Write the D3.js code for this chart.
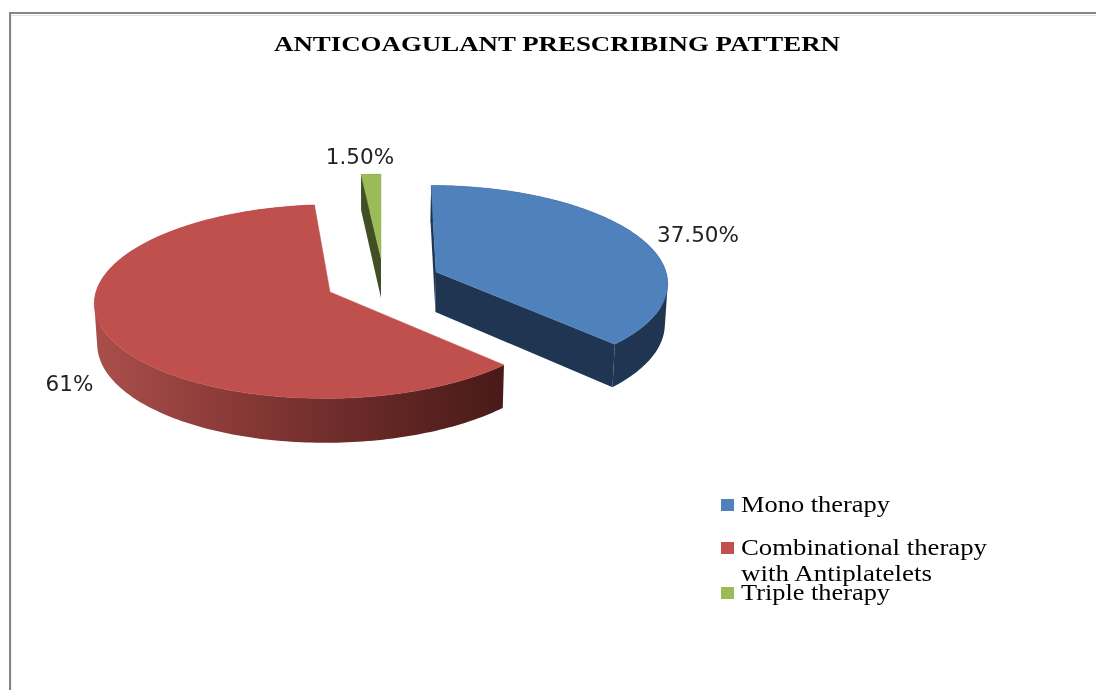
<!DOCTYPE html>
<html><head><meta charset="utf-8">
<script src="https://cdn.jsdelivr.net/npm/d3@7"></script>
<style>html,body{margin:0;padding:0;background:#fff;overflow:hidden}svg{display:block}</style>
</head><body><svg id="c" width="1096" height="690"></svg>
<script>
const title = "ANTICOAGULANT PRESCRIBING PATTERN";
const categories = ["Mono therapy", "Combinational therapy with Antiplatelets", "Triple therapy"];
const values = [37.5, 61, 1.5];
const valueLabels = ["37.50%", "61%", "1.50%"];
const topColors = ["#4f81bd", "#c0504d", "#9bbb59"];
const wallColors = ["#1f3551", "#8a3a38", "#424f26"];

const svg = d3.select("#c");
const defs = svg.append("defs");
defs.append("filter").attr("id","soft").attr("x","-5%").attr("y","-20%").attr("width","110%").attr("height","140%")
  .append("feGaussianBlur").attr("stdDeviation",0.35);

// frame
svg.append("path").attr("d","M1096 15.5H11V690").attr("fill","none").attr("stroke","#e2e2e2").attr("stroke-width",1);
svg.append("path").attr("d","M1096 13H10V690").attr("fill","none").attr("stroke","#868686").attr("stroke-width",2);

// perspective pie
const K = 0.098, VX = 381, DEPTH = 40, BOTTOM_SCALE = 0.99;
const layout = [
  {ax:436, ay:272, rx:230, ry:95},
  {ax:330, ay:292, rx:234, ry:96},
  {ax:381, ay:258, rx:232, ry:92}
];
const arcs = d3.pie().sort(null).value(d=>d)(values);
const persp = v => 1/(1 - K*v);
function topPt(l, a, r=1){
  const u = Math.sin(a)*r, v = -Math.cos(a)*r, s = persp(v);
  return [VX + (l.ax - VX + u*l.rx)*s, l.ay + v*l.ry*s];
}
function botPt(l, a, r=1){
  const u = Math.sin(a)*r, v = -Math.cos(a)*r, s = persp(v);
  return [VX + (l.ax - VX + u*l.rx)*s*BOTTOM_SCALE, l.ay + (v*l.ry + DEPTH)*s];
}
const line = d3.line();
function sample(a0,a1){
  const n = Math.max(2, Math.ceil((a1-a0)/0.02));
  return d3.range(n+1).map(i=>a0+(a1-a0)*i/n);
}

// red wall gradient
const grad = defs.append("linearGradient").attr("id","redWall").attr("gradientUnits","userSpaceOnUse")
  .attr("x1",95).attr("x2",505).attr("y1",0).attr("y2",0);
[[0,"#aa4f4b"],[0.33,"#8a3a38"],[0.62,"#6b2b29"],[1,"#481a18"]].forEach(([o,c])=>
  grad.append("stop").attr("offset",o).attr("stop-color",c));

const order = [1,2,0];
order.forEach(i=>{
  const d = arcs[i], l = layout[i];
  const g = svg.append("g").attr("class","slice");
  const as = sample(d.startAngle, d.endAngle);
  const wallFill = i===1 ? "url(#redWall)" : wallColors[i];
  // outer wall: one path of same-wound quads, so the silhouette is closed and seamless
  const wallPath = d3.pairs(as)
    .map(([a,b])=>line(d3.polygonHull([topPt(l,a),topPt(l,b),botPt(l,b),botPt(l,a)]))+"Z")
    .join("");
  g.append("path").attr("d",wallPath).attr("fill",wallFill);
  // radial cut faces
  [d.startAngle,d.endAngle].forEach((a,j)=>{
    const visible = i===0 || (i===2 && j===0);
    if(!visible) return;
    const pts=[topPt(l,a),topPt(l,a,0),botPt(l,a,0),botPt(l,a)];
    g.append("path").attr("d",line(pts)+"Z").attr("fill",wallColors[i]);
  });
  const topPts = [topPt(l,0,0)].concat(as.map(a=>topPt(l,a)));
  g.append("path").attr("d",line(topPts)+"Z").attr("fill",topColors[i]).attr("stroke",topColors[i]).attr("stroke-width",.5);
});

const textLayer = svg.append("g").attr("filter","url(#soft)");

// value labels
const labelPos = [[698,242],[69.5,391],[360,164]];
textLayer.append("g").selectAll("text").data(valueLabels).join("text")
  .attr("x",(d,i)=>labelPos[i][0]).attr("y",(d,i)=>labelPos[i][1])
  .attr("text-anchor","middle").attr("font-family","DejaVu Sans").attr("font-size",21.5).attr("fill","#222")
  .text(d=>d);

// title
const serif = "Liberation Serif";
textLayer.append("text").attr("x",274).attr("y",51).attr("font-family",serif).attr("font-weight","bold")
  .attr("font-size",22).attr("fill","#000").attr("textLength",566).attr("lengthAdjust","spacingAndGlyphs").text(title);

// legend
const swatchY = [499,542,587];
svg.append("g").selectAll("rect").data(categories).join("rect")
  .attr("x",721).attr("y",(d,i)=>swatchY[i]).attr("width",13).attr("height",12).attr("fill",(d,i)=>topColors[i]);
const legendLines = [
  {t:"Mono therapy", y:512, w:149},
  {t:"Combinational therapy", y:555, w:246},
  {t:"with Antiplatelets", y:581, w:191},
  {t:"Triple therapy", y:600, w:149}
];
textLayer.append("g").selectAll("text").data(legendLines).join("text")
  .attr("x",741).attr("y",d=>d.y).attr("font-family",serif).attr("font-size",23).attr("fill","#000")
  .attr("textLength",d=>d.w).attr("lengthAdjust","spacingAndGlyphs").text(d=>d.t);
</script></body></html>
